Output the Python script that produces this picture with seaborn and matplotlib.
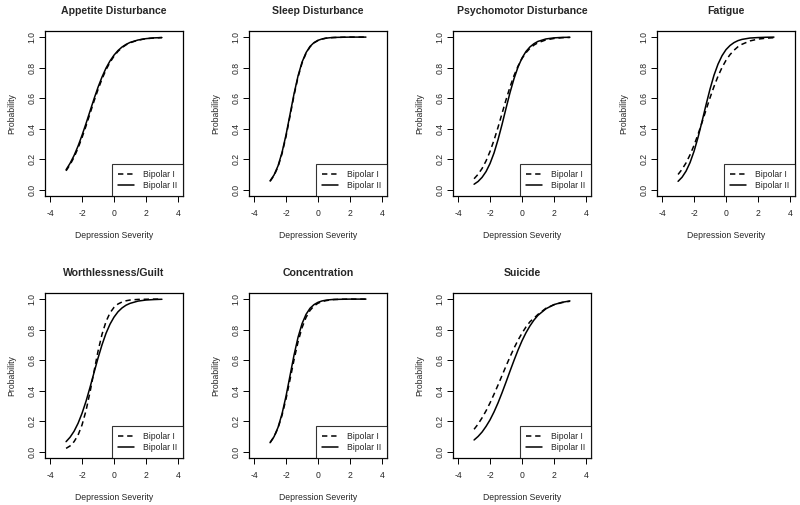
import matplotlib
matplotlib.use("Agg")
import matplotlib.pyplot as plt
import seaborn as sns
import pandas as pd

sns.set_style("white")
plt.rcParams['font.family'] = ['Liberation Sans', 'DejaVu Sans']

severity = [-3, -2.75, -2.5, -2.25, -2, -1.75, -1.5, -1.25, -1, -0.75, -0.5, -0.25,
            0, 0.25, 0.5, 0.75, 1, 1.5, 2, 2.5, 3]

titles = ["Appetite Disturbance", "Sleep Disturbance", "Psychomotor Disturbance", "Fatigue",
          "Worthlessness/Guilt", "Concentration", "Suicide"]

bipolar1 = {
    "Appetite Disturbance":    [0.125, 0.165, 0.214, 0.274, 0.343, 0.419, 0.500, 0.581, 0.657, 0.726, 0.786, 0.835,
                                0.875, 0.907, 0.931, 0.949, 0.963, 0.980, 0.990, 0.994, 0.997],
    "Sleep Disturbance":       [0.056, 0.094, 0.152, 0.238, 0.351, 0.484, 0.619, 0.738, 0.830, 0.894, 0.936, 0.962,
                                0.978, 0.987, 0.993, 0.996, 0.997, 0.999, 1.0, 1.0, 1.0],
    "Psychomotor Disturbance": [0.073, 0.102, 0.140, 0.190, 0.252, 0.326, 0.410, 0.500, 0.590, 0.674, 0.748, 0.810,
                                0.860, 0.898, 0.927, 0.948, 0.963, 0.982, 0.991, 0.996, 0.998],
    "Fatigue":                 [0.101, 0.135, 0.177, 0.230, 0.292, 0.364, 0.442, 0.523, 0.603, 0.677, 0.744, 0.801,
                                0.848, 0.885, 0.914, 0.937, 0.953, 0.975, 0.987, 0.993, 0.996],
    "Worthlessness/Guilt":     [0.023, 0.039, 0.067, 0.110, 0.177, 0.271, 0.392, 0.527, 0.659, 0.770, 0.853, 0.910,
                                0.946, 0.968, 0.981, 0.989, 0.994, 0.998, 0.999, 1.0, 1.0],
    "Concentration":           [0.061, 0.099, 0.157, 0.240, 0.348, 0.474, 0.603, 0.720, 0.813, 0.880, 0.926, 0.955,
                                0.973, 0.984, 0.990, 0.994, 0.997, 0.999, 1.0, 1.0, 1.0],
    "Suicide":                 [0.148, 0.182, 0.223, 0.269, 0.321, 0.378, 0.438, 0.500, 0.562, 0.622, 0.679, 0.731,
                                0.777, 0.818, 0.852, 0.875, 0.900, 0.940, 0.963, 0.977, 0.986],
}

bipolar2 = {
    "Appetite Disturbance":    [0.132, 0.174, 0.225, 0.287, 0.358, 0.435, 0.516, 0.596, 0.672, 0.739, 0.797, 0.844,
                                0.882, 0.912, 0.935, 0.952, 0.965, 0.981, 0.990, 0.995, 0.997],
    "Sleep Disturbance":       [0.059, 0.098, 0.158, 0.246, 0.361, 0.495, 0.629, 0.746, 0.836, 0.898, 0.939, 0.964,
                                0.979, 0.988, 0.993, 0.996, 0.998, 0.999, 1.0, 1.0, 1.0],
    "Psychomotor Disturbance": [0.037, 0.055, 0.082, 0.120, 0.173, 0.242, 0.329, 0.428, 0.534, 0.637, 0.728, 0.804,
                                0.863, 0.906, 0.936, 0.957, 0.972, 0.988, 0.995, 0.998, 0.999],
    "Fatigue":                 [0.056, 0.083, 0.123, 0.179, 0.253, 0.344, 0.448, 0.557, 0.660, 0.751, 0.823, 0.878,
                                0.918, 0.945, 0.964, 0.977, 0.985, 0.994, 0.997, 0.999, 1.0],
    "Worthlessness/Guilt":     [0.067, 0.096, 0.135, 0.187, 0.253, 0.332, 0.423, 0.519, 0.614, 0.701, 0.776, 0.836,
                                0.882, 0.917, 0.942, 0.960, 0.972, 0.987, 0.994, 0.997, 0.999],
    "Concentration":           [0.060, 0.100, 0.161, 0.250, 0.366, 0.500, 0.634, 0.750, 0.839, 0.900, 0.940, 0.964,
                                0.979, 0.988, 0.993, 0.996, 0.998, 0.999, 1.0, 1.0, 1.0],
    "Suicide":                 [0.078, 0.101, 0.130, 0.167, 0.210, 0.262, 0.321, 0.387, 0.457, 0.529, 0.599, 0.666,
                                0.727, 0.780, 0.825, 0.863, 0.894, 0.937, 0.964, 0.979, 0.988],
}

groups = ["Bipolar I", "Bipolar II"]
xticks = [-4, -2, 0, 2, 4]
yticks = [0.0, 0.2, 0.4, 0.6, 0.8, 1.0]

W, H = 800, 505
fig = plt.figure(figsize=(W / 100, H / 100), dpi=100)

col_left = [45, 249, 453, 657]
row_top = [31, 293]
aw, ah = 138, 165

FS = 6.2
for i, t in enumerate(titles):
    r, c = divmod(i, 4)
    left = col_left[c]
    top = row_top[r]
    ax = fig.add_axes([left / W, (H - top - ah) / H, aw / W, ah / H])
    rows = []
    for g, src in zip(groups, [bipolar1, bipolar2]):
        for x, y in zip(severity, src[t]):
            rows.append({"Depression Severity": x, "Probability": y, "group": g})
    df = pd.DataFrame(rows)
    sns.lineplot(data=df, x="Depression Severity", y="Probability", style="group",
                 style_order=groups, dashes={"Bipolar I": (3.5, 2.5), "Bipolar II": ""},
                 color="black", linewidth=1.1, ax=ax, legend=True)
    ax.set_xlim(-4.32, 4.32)
    ax.set_ylim(-0.04, 1.04)
    ax.set_xticks(xticks)
    ax.set_yticks(yticks)
    ax.set_xticklabels([f"{v:d}" for v in xticks], fontsize=FS)
    ax.set_yticklabels([f"{v:.1f}" for v in yticks], fontsize=FS, rotation=90, va="center")
    ax.tick_params(axis="both", direction="out", length=4.5, width=0.7, color="black",
                   bottom=True, left=True)
    ax.tick_params(axis="x", pad=5)
    ax.tick_params(axis="y", pad=1.5)
    ax.set_xlabel("Depression Severity", fontsize=FS, labelpad=9)
    ax.set_ylabel("Probability", fontsize=FS, labelpad=8)
    ax.set_title(t, fontsize=7.6, fontweight="bold", pad=12)
    for s in ax.spines.values():
        s.set_visible(True)
        s.set_color("black")
        s.set_linewidth(0.9)
    handles, labels = ax.get_legend_handles_labels()
    leg = ax.legend(handles=handles, labels=labels, loc="lower right", fontsize=FS,
                    frameon=True, fancybox=False, borderaxespad=0, handlelength=1.9,
                    borderpad=0.7, labelspacing=0.25, handletextpad=1.0)
    leg.get_frame().set_edgecolor("black")
    leg.get_frame().set_linewidth(0.8)

fig.savefig("out.png", dpi=100, facecolor="white")
